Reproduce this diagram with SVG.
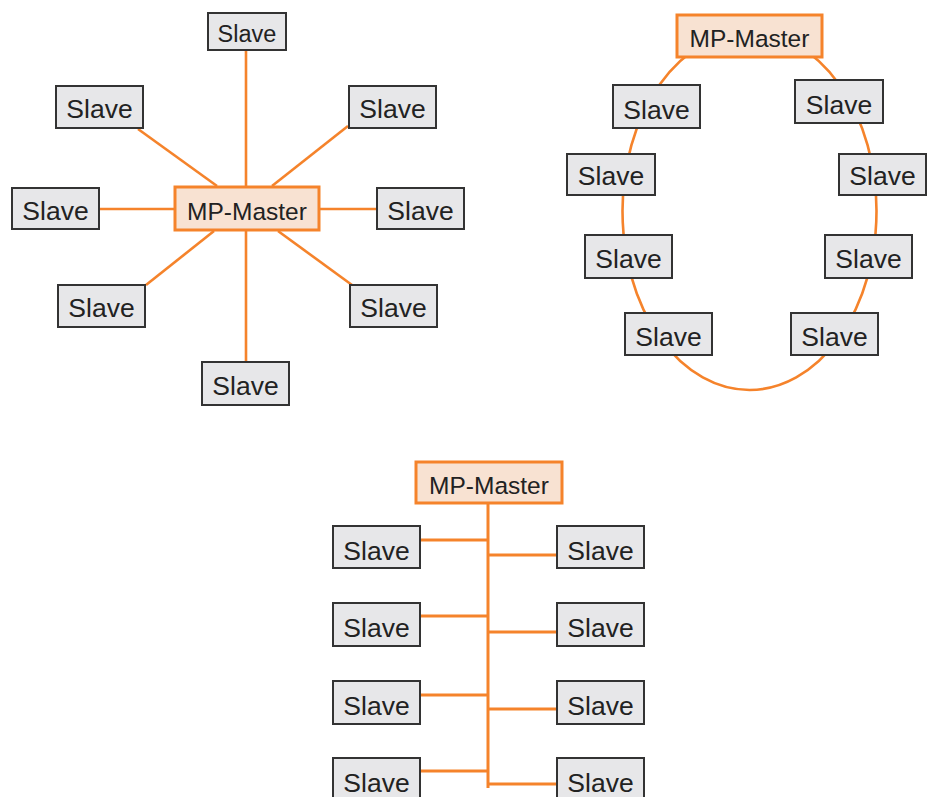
<svg xmlns="http://www.w3.org/2000/svg" width="932" height="797" viewBox="0 0 932 797">
<style>
.bg{fill:#ffffff}
.c{stroke:#F5832B;stroke-width:2.6;fill:none}
.cb{stroke:#F5832B;stroke-width:3;fill:none}
.sl rect{fill:#E7E7E9;stroke:#333333;stroke-width:2}
.ms rect{fill:#F8E2D2;stroke:#F5832B;stroke-width:3}
text{font-family:"Liberation Sans",Arial,sans-serif;fill:#222222;text-anchor:middle}
.sl text{font-size:26.5px}
.ms text{font-size:24.5px}
.small text{font-size:23.5px}
</style>
<rect class="bg" x="0" y="0" width="932" height="797"/>
<g id="connectors">
  <!-- star -->
  <line class="c" x1="246" y1="50" x2="246" y2="362"/>
  <line class="c" x1="99" y1="209" x2="377" y2="209"/>
  <line class="c" x1="138" y1="129" x2="217" y2="186"/>
  <line class="c" x1="348" y1="126" x2="272" y2="186"/>
  <line class="c" x1="146" y1="285" x2="214" y2="231"/>
  <line class="c" x1="278" y1="231" x2="352" y2="285"/>
  <!-- ring -->
  <ellipse class="c" cx="749.5" cy="211" rx="127" ry="179"/>
  <!-- bus -->
  <line class="cb" x1="488" y1="503" x2="488" y2="788"/>
  <line class="cb" x1="420" y1="540" x2="488" y2="540"/>
  <line class="cb" x1="420" y1="616" x2="488" y2="616"/>
  <line class="cb" x1="420" y1="695" x2="488" y2="695"/>
  <line class="cb" x1="420" y1="771" x2="488" y2="771"/>
  <line class="cb" x1="488" y1="555" x2="557" y2="555"/>
  <line class="cb" x1="488" y1="632" x2="557" y2="632"/>
  <line class="cb" x1="488" y1="709" x2="557" y2="709"/>
  <line class="cb" x1="488" y1="784" x2="557" y2="784"/>
</g>
<!-- star -->
<g id="star-master" class="ms"><rect x="175" y="187" width="144" height="43"/><text x="247" y="220">MP-Master</text></g>
<g id="star-slave-top" class="sl small"><rect x="208" y="13" width="78" height="37"/><text x="247" y="42">Slave</text></g>
<g id="star-slave-tl" class="sl"><rect x="56" y="86" width="87" height="42"/><text x="99.5" y="117.5">Slave</text></g>
<g id="star-slave-tr" class="sl"><rect x="349" y="86" width="87" height="42"/><text x="392.5" y="117.5">Slave</text></g>
<g id="star-slave-l" class="sl"><rect x="12" y="188" width="87" height="41"/><text x="55.5" y="220">Slave</text></g>
<g id="star-slave-r" class="sl"><rect x="377" y="188" width="87" height="41"/><text x="420.5" y="220">Slave</text></g>
<g id="star-slave-bl" class="sl"><rect x="58" y="285" width="87" height="42"/><text x="101.5" y="316.5">Slave</text></g>
<g id="star-slave-br" class="sl"><rect x="350" y="285" width="87" height="42"/><text x="393.5" y="316.5">Slave</text></g>
<g id="star-slave-bottom" class="sl"><rect x="202" y="362" width="87" height="43"/><text x="245.5" y="394.5">Slave</text></g>
<!-- ring -->
<g id="ring-master" class="ms"><rect x="677" y="15" width="145" height="42"/><text x="749.5" y="47">MP-Master</text></g>
<g id="ring-slave-1" class="sl"><rect x="613" y="85" width="87" height="43"/><text x="656.5" y="119">Slave</text></g>
<g id="ring-slave-2" class="sl"><rect x="795" y="80" width="88" height="43"/><text x="839" y="114">Slave</text></g>
<g id="ring-slave-3" class="sl"><rect x="567" y="154" width="88" height="41"/><text x="611" y="185">Slave</text></g>
<g id="ring-slave-4" class="sl"><rect x="839" y="154" width="87" height="41"/><text x="882.5" y="185">Slave</text></g>
<g id="ring-slave-5" class="sl"><rect x="585" y="235" width="87" height="43"/><text x="628.5" y="268">Slave</text></g>
<g id="ring-slave-6" class="sl"><rect x="825" y="235" width="87" height="43"/><text x="868.5" y="268">Slave</text></g>
<g id="ring-slave-7" class="sl"><rect x="625" y="313" width="87" height="42"/><text x="668.5" y="346">Slave</text></g>
<g id="ring-slave-8" class="sl"><rect x="791" y="313" width="87" height="42"/><text x="834.5" y="346">Slave</text></g>
<!-- bus -->
<g id="bus-master" class="ms"><rect x="416" y="462" width="146" height="41"/><text x="489" y="493.5">MP-Master</text></g>
<g id="bus-slave-l1" class="sl"><rect x="333" y="526" width="87" height="42"/><text x="376.5" y="560">Slave</text></g>
<g id="bus-slave-l2" class="sl"><rect x="333" y="603" width="87" height="43"/><text x="376.5" y="637">Slave</text></g>
<g id="bus-slave-l3" class="sl"><rect x="333" y="681" width="87" height="43"/><text x="376.5" y="715">Slave</text></g>
<g id="bus-slave-l4" class="sl"><rect x="333" y="758" width="87" height="43"/><text x="376.5" y="792">Slave</text></g>
<g id="bus-slave-r1" class="sl"><rect x="557" y="526" width="87" height="42"/><text x="600.5" y="560">Slave</text></g>
<g id="bus-slave-r2" class="sl"><rect x="557" y="603" width="87" height="43"/><text x="600.5" y="637">Slave</text></g>
<g id="bus-slave-r3" class="sl"><rect x="557" y="681" width="87" height="43"/><text x="600.5" y="715">Slave</text></g>
<g id="bus-slave-r4" class="sl"><rect x="557" y="758" width="87" height="43"/><text x="600.5" y="792">Slave</text></g>
</svg>
